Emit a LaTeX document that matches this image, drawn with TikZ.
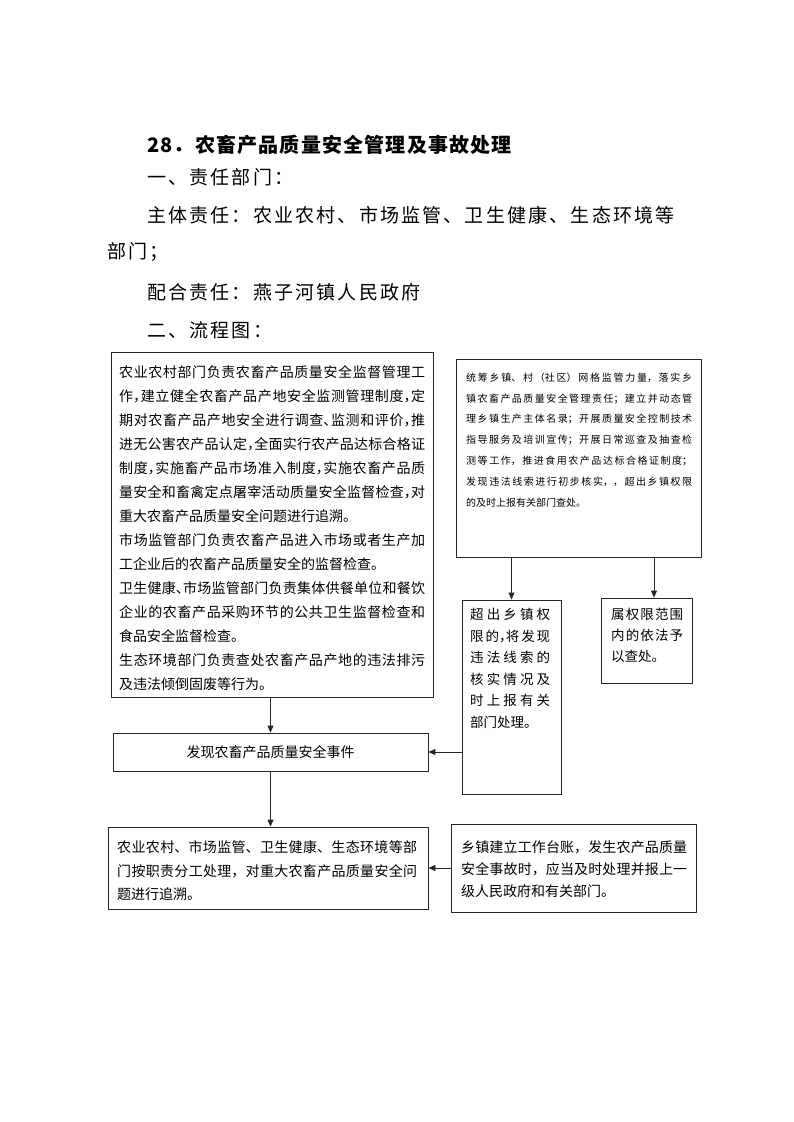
\documentclass[tikz,border=0pt]{standalone}
\usepackage{fontspec}
\setmainfont{Noto Sans CJK SC}
\usetikzlibrary{arrows.meta}
\newcommand\zhpar{\XeTeXlinebreaklocale "zh"\XeTeXlinebreakskip=0pt plus 2pt\relax}
\newcommand\hc{{\addfontfeature{RawFeature=+halt}，}}
\begin{document}
\begin{tikzpicture}[x=1pt,y=-1pt,
  box/.style={draw=black!85,line width=0.9pt,inner sep=0pt},
  arr/.style={draw=black!85,line width=0.9pt,-{Triangle[length=7pt,width=6pt]}},
  txt/.style={inner sep=0pt,anchor=north west,align=justify},
  hd/.style={inner sep=0pt,anchor=west,font=\fontsize{19}{24}\selectfont\addfontfeature{LetterSpace=11.5}}]
\useasboundingbox (0,0) rectangle (793,1122);
% header
\node[inner sep=0pt,anchor=west,font=\fontsize{20}{24}\selectfont\bfseries\addfontfeature{LetterSpace=6}] (title) at (147,145) {28．农畜产品质量安全管理及事故处理};
\node[hd] (h1) at (147,177) {一、责任部门：};
\node[hd] (h2) at (147,215) {主体责任：农业农村、市场监管、卫生健康、生态环境等};
\node[hd] (h3) at (107,252) {部门；};
\node[hd] (h4) at (147,292) {配合责任：燕子河镇人民政府};
\node[hd] (h5) at (147,330) {二、流程图：};
% boxes
\node[box,minimum width=322,minimum height=345] (b1) at (272,524.5) {};
\node[box,minimum width=245,minimum height=198] (b2) at (578.5,458) {};
\node[box,minimum width=99,minimum height=194] (b3) at (511.5,697) {};
\node[box,minimum width=91,minimum height=85] (b4) at (646.5,640.5) {};
\node[box,minimum width=315,minimum height=38,font=\fontsize{14}{18}\selectfont] (b5) at (270.5,752) {发现农畜产品质量安全事件};
\node[box,minimum width=320,minimum height=82] (b6) at (268,868) {};
\node[box,minimum width=245,minimum height=88] (b7) at (573.5,868) {};
% texts
\node[txt,text width=306pt,font=\fontsize{14}{24}\selectfont\zhpar\addfontfeature{RawFeature=+halt}] (t1) at (119,365.5) {农业农村部门负责农畜产品质量安全监督管理工\linebreak 作，建立健全农畜产品产地安全监测管理制度，定\linebreak 期对农畜产品产地安全进行调查、监测和评价，推\linebreak 进无公害农产品认定，全面实行农产品达标合格证\linebreak 制度，实施畜产品市场准入制度，实施农畜产品质\linebreak 量安全和畜禽定点屠宰活动质量安全监督检查，对\linebreak 重大农畜产品质量安全问题进行追溯。\\ 市场监管部门负责农畜产品进入市场或者生产加\linebreak 工企业后的农畜产品质量安全的监督检查。\\ 卫生健康、市场监管部门负责集体供餐单位和餐饮\linebreak 企业的农畜产品采购环节的公共卫生监督检查和\linebreak 食品安全监督检查。\\ 生态环境部门负责查处农畜产品产地的违法排污\linebreak 及违法倾倒固废等行为。};
\node[txt,text width=226pt,font=\fontsize{10}{20.8}\selectfont\zhpar] (t2) at (466,372.5) {统筹乡镇、村（社区）网格监管力量，落实乡\linebreak 镇农畜产品质量安全管理责任；建立并动态管\linebreak 理乡镇生产主体名录；开展质量安全控制技术\linebreak 指导服务及培训宣传；开展日常巡查及抽查检\linebreak 测等工作，推进食用农产品达标合格证制度；\linebreak 发现违法线索进行初步核实，，超出乡镇权限\linebreak 的及时上报有关部门查处。};
\node[txt,text width=80pt,font=\fontsize{13.5}{21.5}\selectfont\zhpar] (t3) at (470,608) {超出乡镇权\linebreak 限的\hc 将发现\linebreak 违法线索的\linebreak 核实情况及\linebreak 时上报有关\linebreak 部门处理。};
\node[txt,text width=72pt,font=\fontsize{13.5}{21}\selectfont\zhpar] (t4) at (611,608) {属权限范围\linebreak 内的依法予\linebreak 以查处。};
\node[txt,text width=300pt,font=\fontsize{14}{23.5}\selectfont\zhpar] (t6) at (117,840.5) {农业农村、市场监管、卫生健康、生态环境等部\linebreak 门按职责分工处理，对重大农畜产品质量安全问\linebreak 题进行追溯。};
\node[txt,text width=226pt,font=\fontsize{14}{22}\selectfont\zhpar] (t7) at (461,840.5) {乡镇建立工作台账，发生农产品质量\linebreak 安全事故时，应当及时处理并报上一\linebreak 级人民政府和有关部门。};
% arrows
\draw[arr] (b3.north |- b2.south) -- (b3.north);
\draw[arr] ([xshift=7.5pt]b4.north |- b2.south) -- ([xshift=7.5pt]b4.north);
\draw[arr] (b1.south -| b5.north) -- (b5.north);
\draw[arr] (b5.south) -- (b5.south |- b6.north);
\draw[arr] (b3.west |- b5.east) -- (b5.east);
\draw[arr] (b7.west) -- (b6.east);
\end{tikzpicture}
\end{document}
